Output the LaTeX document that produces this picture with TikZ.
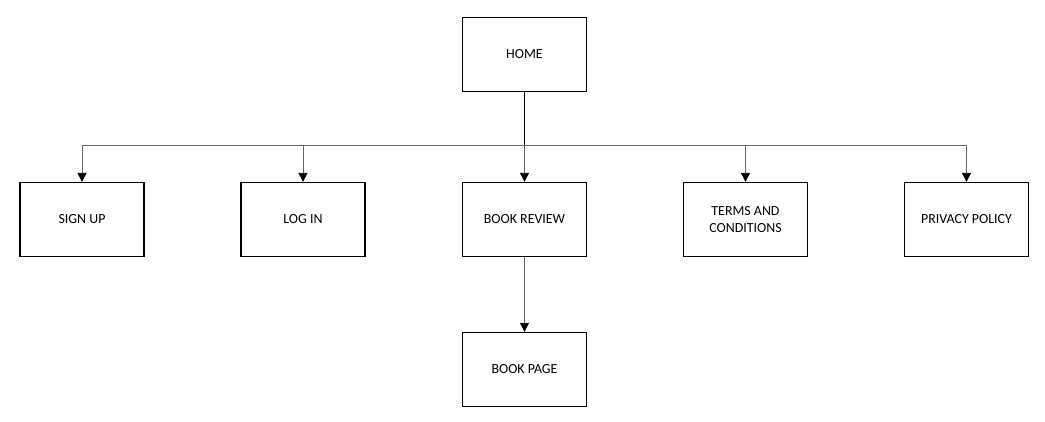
\documentclass[tikz,border=0pt]{standalone}
\usepackage{fontspec}
\setmainfont{Carlito}
\usetikzlibrary{arrows.meta}
\begin{document}
\begin{tikzpicture}[x=1pt,y=-1pt,
  pagebox/.style={draw=black,line width=1.3pt,minimum width=124pt,minimum height=74pt,inner sep=0pt,align=center,font=\fontsize{13.9}{15.5}\selectfont},
  bus/.style={draw=black!60,line width=0.9pt},
  conn/.style={draw=black!60,line width=0.9pt,-{Triangle[length=9pt,width=9pt,color=black]}},
  trunk/.style={draw=black,line width=1.2pt}]
\useasboundingbox (0,0) rectangle (1045,422);
\node[pagebox] (home) at (524.5,54.5) {HOME};
\node[pagebox] (signup) at (82,219.5) {SIGN UP};
\node[pagebox] (login) at (303,219.5) {LOG IN};
\node[pagebox] (review) at (524.5,219.5) {BOOK REVIEW};
\node[pagebox] (terms) at (745.5,219.5) {TERMS AND\\[1pt]CONDITIONS};
\node[pagebox] (privacy) at (966.5,219.5) {PRIVACY POLICY};
\node[pagebox] (bookpage) at (524.5,369.5) {BOOK PAGE};
\coordinate (j) at (524.5,145.5);
\draw[trunk] (home.south) -- (j);
\draw[bus] (signup.north |- j) -- (privacy.north |- j);
\foreach \n in {signup,login,review,terms,privacy}
  \draw[conn] (\n.north |- j) -- (\n.north);
\draw[conn] (review.south) -- (bookpage.north);
\end{tikzpicture}
\end{document}
